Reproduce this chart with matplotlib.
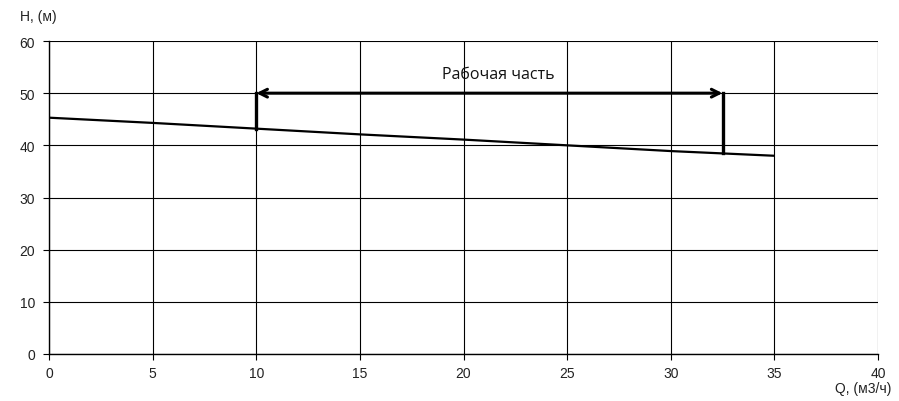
import matplotlib
matplotlib.use("Agg")
import matplotlib.pyplot as plt

q_vals = [0, 5, 10, 15, 20, 25, 30, 35]
h_vals = [45.3, 44.3, 43.2, 42.1, 41.1, 40.0, 38.9, 38.0]
work_start = 10
work_end = 32.5
h_work_start = 43.2
h_work_end = 38.5
arrow_level = 50
label_text = "Рабочая часть"
x_ticks = [0, 5, 10, 15, 20, 25, 30, 35, 40]
y_ticks = [0, 10, 20, 30, 40, 50, 60]

plt.rcParams['font.family'] = ['Liberation Sans', 'DejaVu Sans']
fig = plt.figure(figsize=(8.99, 4.02), dpi=100)
ax = fig.add_axes([49/899, 1 - 355/402, (878-49)/899, (355-42)/402])

ax.plot(q_vals, h_vals, color='black', lw=1.6, solid_capstyle='butt')
ax.plot([work_start, work_start], [h_work_start, arrow_level], color='black', lw=2.4)
ax.plot([work_end, work_end], [h_work_end, arrow_level], color='black', lw=2.4)
ax.annotate('', xy=(work_start, arrow_level), xytext=(work_end, arrow_level),
            arrowprops=dict(arrowstyle='<->', color='black', lw=2.2,
                            mutation_scale=14, shrinkA=0, shrinkB=0))
ax.text(21.7, 53.6, label_text, ha='center', va='center', fontsize=11.5,
        family=['Open Sans', 'DejaVu Sans'], color='#111111')

ax.set_xlim(0, 40)
ax.set_ylim(0, 60)
ax.set_xticks(x_ticks)
ax.set_yticks(y_ticks)
ax.grid(True, color='black', lw=0.8)
ax.set_axisbelow(True)
for side in ['top', 'right']:
    ax.spines[side].set_visible(False)
for side in ['left', 'bottom']:
    ax.spines[side].set_linewidth(1.0)
ax.tick_params(axis='both', direction='out', length=4, width=0.8, labelsize=10,
               labelcolor='#222222')
ax.tick_params(axis='x', pad=5)
ax.tick_params(axis='y', pad=6)

fig.text(20/899, 1 - 17/402, 'H, (м)', ha='left', va='center', fontsize=10, color='#222222')
fig.text(891/899, 1 - 389/402, 'Q, (м3/ч)', ha='right', va='center', fontsize=10, color='#222222')

fig.savefig('out.png', dpi=100)
